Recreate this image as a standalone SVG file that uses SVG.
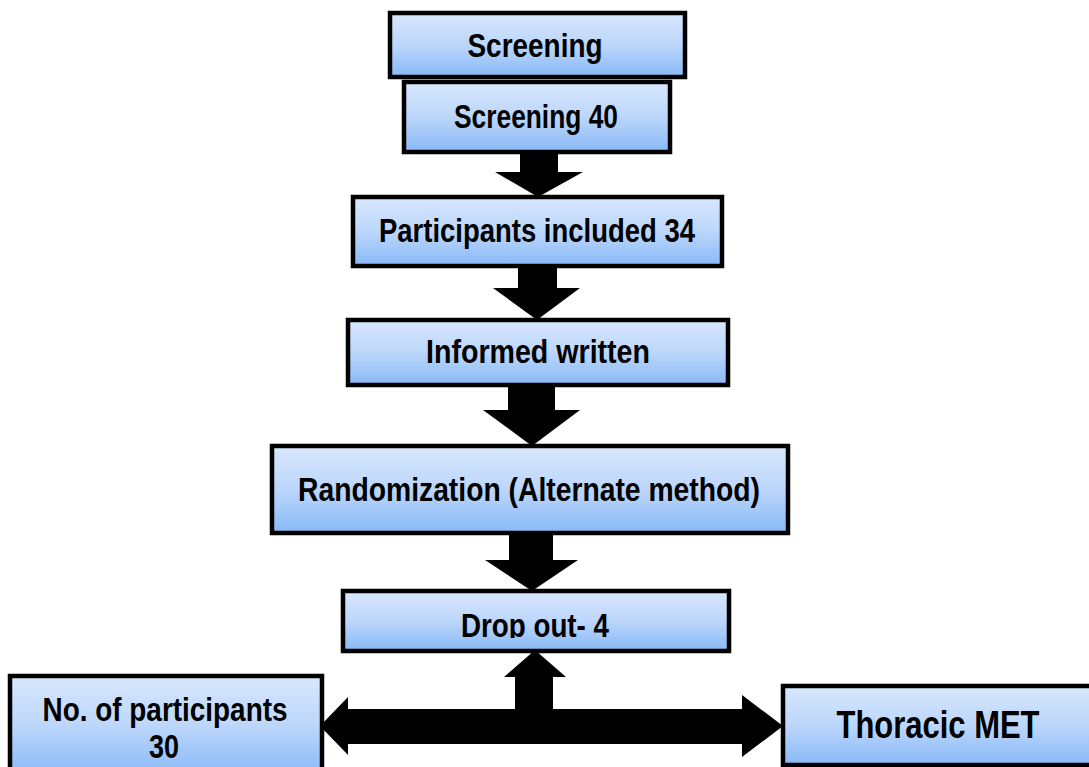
<svg xmlns="http://www.w3.org/2000/svg" width="1089" height="767" viewBox="0 0 1089 767">
<defs>
<linearGradient id="fill" x1="0" y1="0" x2="0" y2="1">
<stop offset="0" stop-color="#d8e7fd"/>
<stop offset="0.5" stop-color="#bcd6fb"/>
<stop offset="1" stop-color="#88b9f7"/>
</linearGradient>
<clipPath id="dropClip"><rect x="343" y="590" width="387" height="48"/></clipPath>
</defs>
<style>
.box{fill:url(#fill);stroke:#000;stroke-width:4.5}
.t{font-family:"Liberation Sans Narrow","Liberation Sans",Arial,sans-serif;font-weight:bold;font-size:33px;fill:#000;text-anchor:middle}
.big{font-size:38px}
.arr{fill:#000}
</style>
<rect width="1089" height="767" fill="#fff"/>
<g id="connectors">
<polygon class="arr" points="520,152 558,152 558,172 583,172 538,197 495,172 520,172"/>
<polygon class="arr" points="518,266 557,266 557,288 580,288 537,320 493,288 518,288"/>
<polygon class="arr" points="508,385 555,385 555,410 580,410 532,446 483,410 508,410"/>
<polygon class="arr" points="509,532 553,532 553,560 578,560 532,591 485,560 509,560"/>
<path class="arr" d="M535,650 L566,677 L553,677 L553,709 L742,709 L742,695 L783,726 L742,757 L742,744 L348,744 L348,755 L320,726 L348,697 L348,709 L515,709 L515,677 L504,677 Z"/>
</g>
<g id="n1"><rect class="box" x="390" y="13" width="295" height="64"/><text class="t" x="535" y="57" textLength="135" lengthAdjust="spacingAndGlyphs">Screening</text></g>
<g id="n2"><rect class="box" x="404" y="82" width="266" height="70"/><text class="t" x="536" y="128" textLength="164" lengthAdjust="spacingAndGlyphs">Screening 40</text></g>
<g id="n3"><rect class="box" x="353" y="197" width="369" height="69"/><text class="t" x="537" y="242" textLength="316" lengthAdjust="spacingAndGlyphs">Participants included 34</text></g>
<g id="n4"><rect class="box" x="348" y="320" width="380" height="65"/><text class="t" x="538" y="363" textLength="224" lengthAdjust="spacingAndGlyphs">Informed written</text></g>
<g id="n5"><rect class="box" x="272" y="446" width="516" height="87"/><text class="t" x="529" y="501" textLength="462" lengthAdjust="spacingAndGlyphs">Randomization (Alternate method)</text></g>
<g id="n6"><rect class="box" x="343" y="591" width="386" height="60"/><text class="t" x="535" y="637" textLength="148" lengthAdjust="spacingAndGlyphs" clip-path="url(#dropClip)">Drop out- 4</text></g>
<g id="n7"><rect class="box" x="10" y="676" width="312" height="100"/><text class="t" x="165" y="721" textLength="245" lengthAdjust="spacingAndGlyphs">No. of participants</text><text class="t" x="164" y="758" textLength="30" lengthAdjust="spacingAndGlyphs">30</text></g>
<g id="n8"><rect class="box" x="783" y="686" width="330" height="79"/><text class="t big" x="938" y="738" textLength="203" lengthAdjust="spacingAndGlyphs">Thoracic MET</text></g>
</svg>
